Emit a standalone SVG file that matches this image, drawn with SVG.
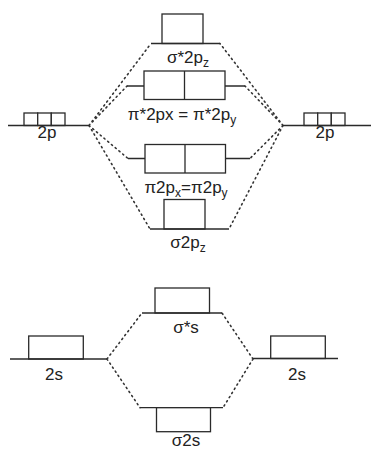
<svg xmlns="http://www.w3.org/2000/svg" width="371" height="450" viewBox="0 0 371 450">
<style>
.lv{stroke:#2a2a2a;stroke-width:1.3;fill:none}
.bx{stroke:#2a2a2a;stroke-width:1.3;fill:#fff}
.dot{stroke:#333;stroke-width:1.6;fill:none;stroke-dasharray:1.3 3.6;stroke-linecap:round}
text{font-family:"Liberation Sans",Arial,sans-serif;font-size:17px;fill:#222;text-anchor:middle}
.sub{font-size:12px}
</style>
<rect width="371" height="450" fill="#fff"/>
<g id="connectors">
<path class="dot" d="M89,125.5 L151,43.5 M89,125.5 L127,86 M89,125.5 L128,158.5 M89,125.5 L150,229"/>
<path class="dot" d="M283,125.5 L220,43.5 M283,125.5 L245,86 M283,125.5 L250,158.5 M283,125.5 L229,229"/>
<path class="dot" d="M107,359 L142,313 M107,359 L140,407.7 M253,359 L222,313 M253,359 L223,407.7"/>
</g>
<g id="sigma_star_2pz">
<rect class="bx" x="162" y="14" width="41" height="29.5"/>
<line class="lv" x1="151" y1="43.5" x2="220" y2="43.5"/>
<text x="188" y="63">σ*2p<tspan class="sub" dy="4">z</tspan></text>
</g>
<g id="pi_star_2p">
<line class="lv" x1="127" y1="86" x2="245" y2="86"/>
<rect class="bx" x="144" y="71" width="81" height="28.5"/>
<line class="lv" x1="184.5" y1="71" x2="184.5" y2="99.5"/>
<text x="182" y="120">π*2px = π*2p<tspan class="sub" dy="4">y</tspan></text>
</g>
<g id="left_2p">
<rect class="bx" x="24" y="113" width="13.7" height="12.5"/>
<rect class="bx" x="37.7" y="113" width="13.6" height="12.5"/>
<rect class="bx" x="51.3" y="113" width="13.7" height="12.5"/>
<line class="lv" x1="8" y1="125.5" x2="89" y2="125.5"/>
<text x="47" y="138">2p</text>
</g>
<g id="right_2p">
<rect class="bx" x="304" y="113" width="13.7" height="12.5"/>
<rect class="bx" x="317.7" y="113" width="13.6" height="12.5"/>
<rect class="bx" x="331.3" y="113" width="13.7" height="12.5"/>
<line class="lv" x1="283" y1="125.5" x2="371" y2="125.5"/>
<text x="325" y="138">2p</text>
</g>
<g id="pi_2p">
<line class="lv" x1="128" y1="158.5" x2="250" y2="158.5"/>
<rect class="bx" x="145" y="144.5" width="80.5" height="28.5"/>
<line class="lv" x1="185" y1="144.5" x2="185" y2="173"/>
<text x="186" y="193">π2p<tspan class="sub" dy="4">x</tspan><tspan dy="-4">=π2p</tspan><tspan class="sub" dy="4">y</tspan></text>
</g>
<g id="sigma_2pz">
<rect class="bx" x="164" y="199.5" width="41" height="29.5"/>
<line class="lv" x1="150" y1="229" x2="229" y2="229"/>
<text x="188" y="248">σ2p<tspan class="sub" dy="4">z</tspan></text>
</g>
<g id="sigma_star_s">
<rect class="bx" x="155" y="288" width="54.5" height="25"/>
<line class="lv" x1="142" y1="313" x2="222" y2="313"/>
<text x="186" y="333">σ*s</text>
</g>
<g id="left_2s">
<rect class="bx" x="28.7" y="336" width="54.6" height="23"/>
<line class="lv" x1="10" y1="359" x2="107" y2="359"/>
<text x="54" y="380">2s</text>
</g>
<g id="right_2s">
<rect class="bx" x="270.7" y="336" width="54.6" height="22.5"/>
<line class="lv" x1="253" y1="358.5" x2="338" y2="358.5"/>
<text x="297" y="380">2s</text>
</g>
<g id="sigma_2s">
<line class="lv" x1="140" y1="407.7" x2="223" y2="407.7"/>
<rect class="bx" x="156.5" y="407.7" width="54" height="24"/>
<text x="186" y="446">σ2s</text>
</g>
</svg>
